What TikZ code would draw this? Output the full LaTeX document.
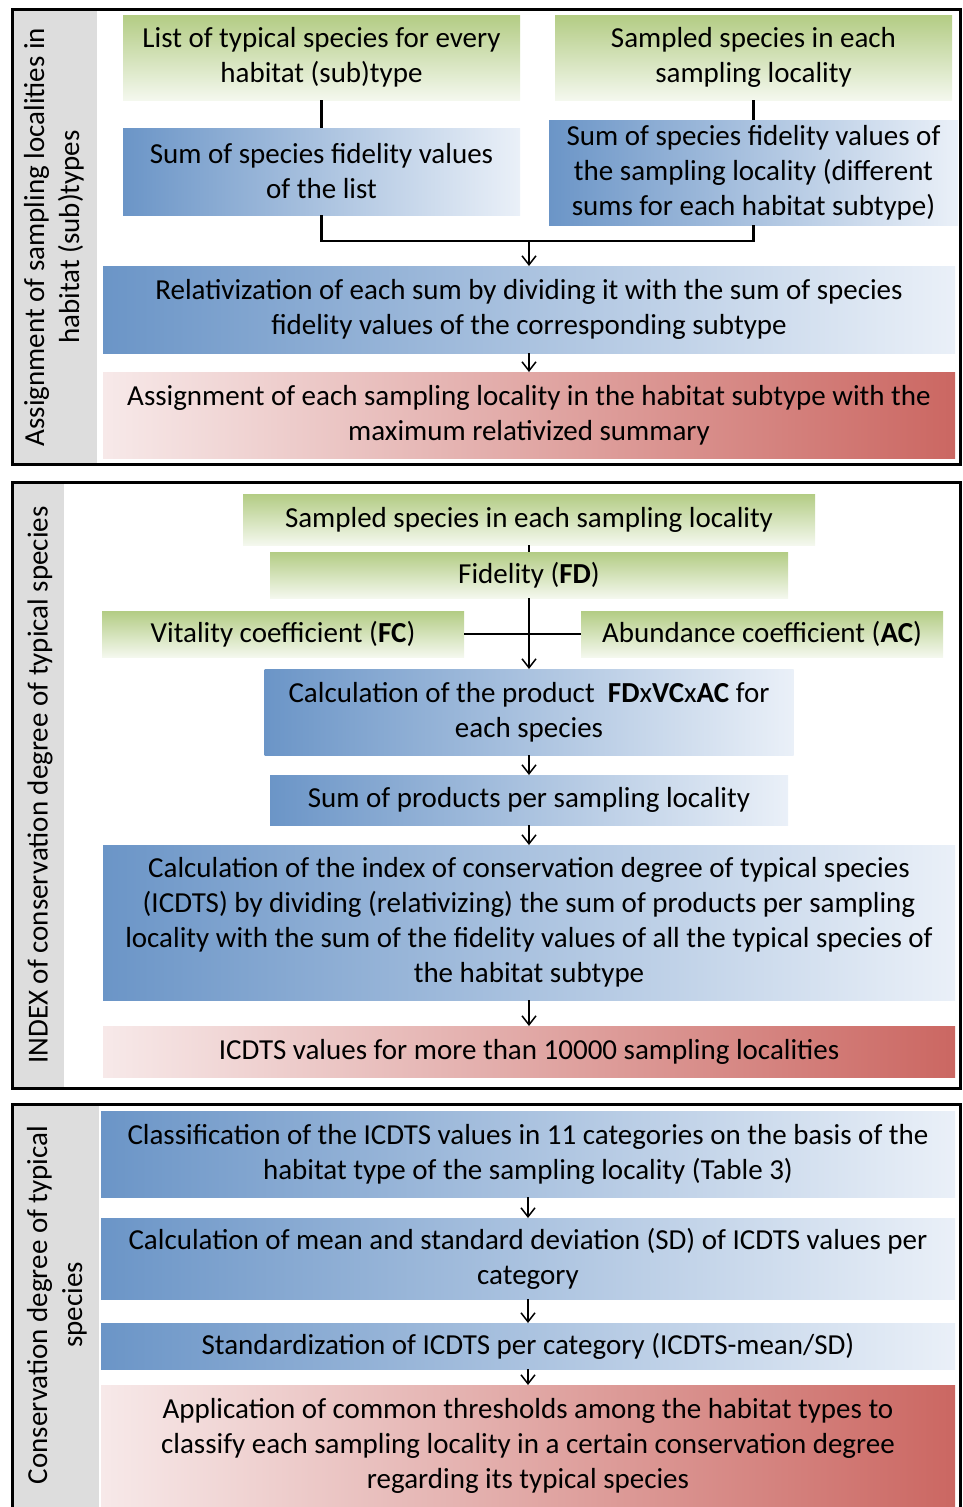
\documentclass[tikz,border=0pt]{standalone}
\usepackage{fontspec}
\setmainfont{Carlito}
\usetikzlibrary{arrows.meta,positioning}
\definecolor{grntop}{HTML}{B3CC84}
\definecolor{grnbot}{HTML}{F4F8EE}
\definecolor{blul}{HTML}{6B95C7}
\definecolor{blur}{HTML}{EAF0F8}
\definecolor{redl}{HTML}{F7E9E9}
\definecolor{redr}{HTML}{CB6762}
\definecolor{bandgray}{HTML}{DDDDDD}

\begin{document}
\begin{tikzpicture}[
  x=1pt,y=-1pt,
  font=\fontsize{29pt}{35pt}\selectfont,
  box/.style={align=center,inner sep=2pt,outer sep=0pt},
  dims/.style 2 args={minimum width=#1pt,minimum height=#2pt},
  greenbox/.style={box,top color=grntop,bottom color=grnbot},
  bluebox/.style={box,left color=blul,right color=blur},
  redbox/.style={box,left color=redl,right color=redr},
  frame/.style={draw=black,line width=3pt},
  band/.style={fill=bandgray},
  sidelabel/.style={align=center,rotate=90},
  conn/.style={line width=2.5pt},
  thinline/.style={line width=1.5pt},
  arr/.style={line width=1.5pt,-{Straight Barb[length=9pt,width=14pt,line width=1.5pt]}}
]
\useasboundingbox (0,0) rectangle (962,1507);

\fill[band] (12,9) rectangle (97,464);
\fill[band] (12,482) rectangle (64,1088);
\fill[band] (12,1104) rectangle (99,1507);

\node[sidelabel] (label1) at (54,237)
      {Assignment of sampling localities in\\habitat (sub)types};
\node[sidelabel] (label2) at (40,785)
      {INDEX of conservation degree of typical species};
\node[sidelabel] (label3) at (57,1305)
      {Conservation degree of typical\\species};

\node[greenbox,dims={397}{85}] (typical) at (321.5,57.5)
      {List of typical species for every\\habitat (sub)type};
\node[greenbox,dims={397}{85}] (sampled) at (753.5,57.5)
      {Sampled species in each\\sampling locality};
\node[bluebox,dims={397}{87},below=28pt of typical] (sumlist)
      {Sum of species fidelity values\\of the list};
\node[bluebox,dims={409}{105},below=20pt of sampled] (sumloc)
      {Sum of species fidelity values of\\the sampling locality (different\\sums for each habitat subtype)};
\node[bluebox,dims={852}{87}] (relat) at (529,309.5)
      {Relativization of each sum by dividing it with the sum of species\\
       fidelity values of the corresponding subtype};
\node[redbox,dims={852}{86},below=19pt of relat] (assign)
      {Assignment of each sampling locality in the habitat subtype with the\\
       maximum relativized summary};
\coordinate (join) at (529,241);
\draw[conn] (typical) -- (sumlist);
\draw[conn] (sampled) -- (sumloc);
\draw[conn] (sumlist.south) |- (join) -| (sumloc.south);
\draw[arr,line width=2.5pt] (join) -- (relat.north);
\draw[arr] (relat) -- (assign);

\node[greenbox,dims={572}{51}] (sampled2) at (529,519.5)
      {Sampled species in each sampling locality};
\node[greenbox,dims={518}{46},below=7pt of sampled2] (fidelity)
      {Fidelity (\textbf{FD})};
\node[greenbox,dims={362}{46}] (vitality) at (283,634)
      {Vitality coefficient (\textbf{FC})};
\node[greenbox,dims={362}{46}] (abundance) at (762,634)
      {Abundance coefficient (\textbf{AC})};
\node[bluebox,dims={529}{86}] (product) at (529,712)
      {Calculation of the product\ \ \textbf{FD}x\textbf{VC}x\textbf{AC} for\\each species};
\node[bluebox,dims={518}{50},below=20pt of product] (sumprod)
      {Sum of products per sampling locality};
\node[bluebox,dims={852}{155},below=20pt of sumprod] (index)
      {Calculation of the index of conservation degree of typical species\\
       (ICDTS) by dividing (relativizing) the sum of products per sampling\\
       locality with the sum of the fidelity values of all the typical species of\\
       the habitat subtype};
\node[redbox,dims={852}{51},below=26pt of index] (values)
      {ICDTS values for more than 10000 sampling localities};
\draw[thinline] (sampled2) -- (fidelity);
\draw[conn] (vitality) -- (abundance);
\draw[arr] (fidelity) -- (product);
\draw[arr] (product) -- (sumprod);
\draw[arr] (sumprod) -- (index);
\draw[arr] (index) -- (values);

\node[bluebox,dims={854}{86}] (classes) at (528,1154)
      {Classification of the ICDTS values in 11 categories on the basis of the\\
       habitat type of the sampling locality (Table 3)};
\node[bluebox,dims={854}{81},below=21pt of classes] (meansd)
      {Calculation of mean and standard deviation (SD) of ICDTS values per\\
       category};
\node[bluebox,dims={854}{46},below=24pt of meansd] (standard)
      {Standardization of ICDTS per category (ICDTS-mean/SD)};
\node[redbox,dims={854}{122},below=16pt of standard] (thresh)
      {Application of common thresholds among the habitat types to\\
       classify each sampling locality in a certain conservation degree\\
       regarding its typical species};
\draw[arr] (classes) -- (meansd);
\draw[arr] (meansd) -- (standard);
\draw[arr] (standard) -- (thresh);

\draw[frame] (12,9) rectangle (960,464);
\draw[frame] (12,482) rectangle (960,1088);
\draw[frame] (12,1507) -- (12,1104) -- (960,1104) -- (960,1507);
\end{tikzpicture}
\end{document}
